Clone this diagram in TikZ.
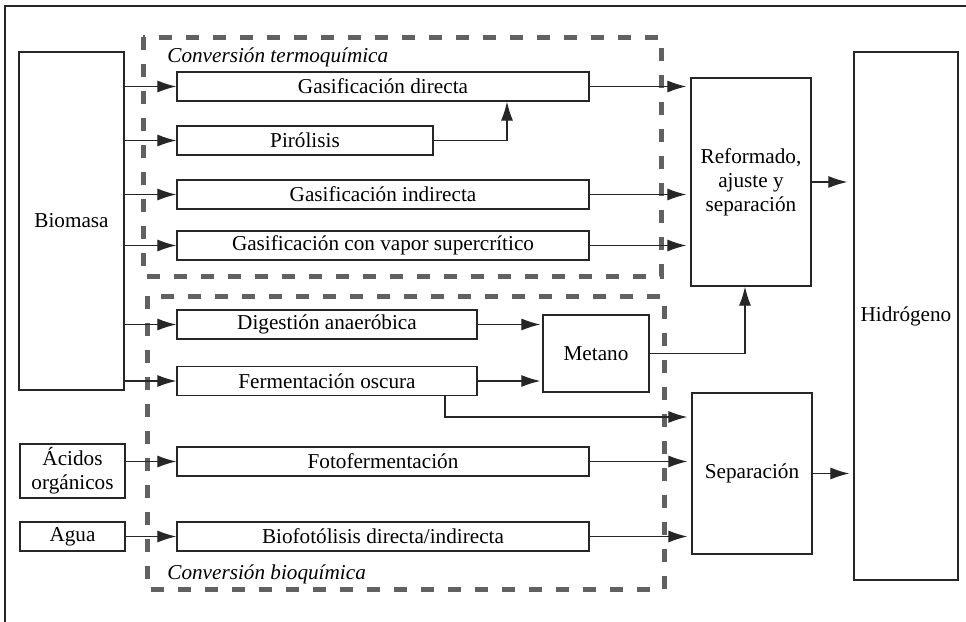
\documentclass[tikz,border=0pt]{standalone}
\usepackage{fontspec}
\setmainfont{Liberation Serif}
\usepackage{tikz}
\usetikzlibrary{shapes,positioning,calc}
\usetikzlibrary{arrows.meta}
\colorlet{dashgray}{black!62}
\colorlet{linegray}{black!85}
\tikzstyle{arrow} = [line width=0.6pt,draw=linegray,-{Latex[length=9.5pt,width=6pt]}]

\begin{document}
\begin{tikzpicture}[x=0.5pt, y=-0.5pt, font=\fontsize{10.6}{12}\selectfont,
	process/.style={rectangle, draw=linegray, line width=0.65pt, inner sep=0pt, align=center, minimum height=14.5pt},
	group/.style={draw=dashgray, line width=2.5pt, dash pattern=on 6.5pt off 7pt},
	grouptitle/.style={anchor=base west, inner sep=0pt, font=\fontsize{10.6}{12}\selectfont\itshape}]
		
			% FRAME
			\useasboundingbox (0,0) rectangle (966,622);
			\draw[line width=1pt, black!85] (5,622) -- (5,6) -- (966,6);
			
			% GROUPS
			\draw[group] (143,37) rectangle (661,276);
			\draw[group] (147,296) rectangle (664,589);
			\node[grouptitle] (termotitle) at (167,62) {Conversión termoquímica};
			\node[grouptitle] (biotitle) at (167,579) {Conversión bioquímica};
			
			% SOURCES
			\node[process, minimum width=52.5pt, minimum height=169pt] (biomasa) at (71.5,221) {Biomasa};
			\node[process, minimum width=52.5pt, minimum height=27pt] (acidos) at (72.5,471) {Ácidos\\orgánicos};
			\node[process, minimum width=52.5pt] (agua) at (72.5,536.5) {Agua};
			
			% PROCESSES
			\node[process, minimum width=206pt] (gasdir) at (383,86.5) {Gasificación directa};
			\node[process, minimum width=128pt] (pirolisis) at (305,140.5) {Pirólisis};
			\node[process, minimum width=206pt] (gasind) at (383,194.5) {Gasificación indirecta};
			\node[process, minimum width=206pt] (gasvapor) at (383,245.5) {Gasificación con vapor supercrítico};
			\node[process, minimum width=150pt] (digestion) at (327,324.5) {Digestión anaeróbica};
			\node[process, minimum width=150pt] (fermentacion) at (327,381) {Fermentación oscura};
			\node[process, minimum width=206pt] (foto) at (383,461.5) {Fotofermentación};
			\node[process, minimum width=206pt] (biofoto) at (383,536.5) {Biofotólisis directa/indirecta};
			
			% PRODUCTS
			\node[process, minimum width=53pt, minimum height=38.5pt] (metano) at (596,353.5) {Metano};
			\node[process, minimum width=60pt, minimum height=104pt] (reform) at (751,182) {Reformado,\\ajuste y\\separación};
			\node[process, minimum width=60pt, minimum height=80.5pt] (separ) at (752,473.5) {Separación};
			\node[process, minimum width=52pt, minimum height=264pt] (hidro) at (906,316) {Hidrógeno};
			
			\coordinate (pirojoint) at (507,140.5);
			\coordinate (metanojoint) at (745,353.5);
			\coordinate (fermjoint) at (445,417);
			
			% FLOWS
			\foreach \p in {gasdir,pirolisis,gasind,gasvapor,digestion,fermentacion}
				\draw[arrow] (biomasa.east |- \p.west) -- (\p.west);
			\draw[arrow] (acidos.east |- foto.west) -- (foto.west);
			\draw[arrow] (agua.east |- biofoto.west) -- (biofoto.west);
			
			\foreach \p in {gasdir,gasind,gasvapor}
				\draw[arrow, shorten >=2pt] (\p.east) -- (\p.east -| reform.west);
			\draw[arrow] (pirolisis.east) -- (pirojoint) -- (pirojoint |- gasdir.south);
			
			\draw[arrow, shorten >=1pt] (digestion.east) -- (digestion.east -| metano.west);
			\draw[arrow, shorten >=1pt] (fermentacion.east) -- (fermentacion.east -| metano.west);
			\draw[arrow] (metano.east) -- (metanojoint) -- (metanojoint |- reform.south);
			
			\draw[arrow, shorten >=2pt] (fermentacion.south -| fermjoint) -- (fermjoint) -- (fermjoint -| separ.west);
			\draw[arrow, shorten >=2pt] (foto.east) -- (foto.east -| separ.west);
			\draw[arrow, shorten >=2pt] (biofoto.east) -- (biofoto.east -| separ.west);
			
			\draw[arrow, shorten >=3pt] (reform.east) -- (reform.east -| hidro.west);
			\draw[arrow, shorten >=2pt] (separ.east) -- (separ.east -| hidro.west);
			
		\end{tikzpicture}
\end{document}
